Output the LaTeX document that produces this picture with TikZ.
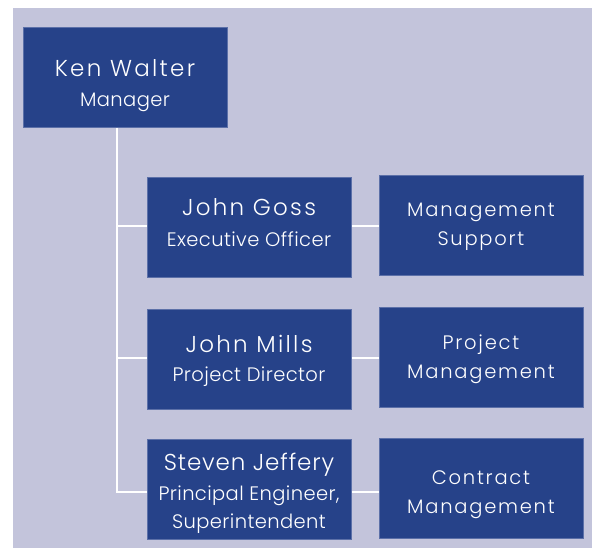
\documentclass[tikz,border=0pt]{standalone}
\usepackage{fontspec}
\setmainfont{Poppins Light}
\newfontfamily\namefont[LetterSpace=10]{Poppins Light}
\newfontfamily\namefontnarrow[LetterSpace=4]{Poppins Light}
\newfontfamily\ttlfont[LetterSpace=2]{Poppins Light}
\newfontfamily\unitfont[LetterSpace=9]{Poppins Light}
\definecolor{bgcol}{RGB}{195,196,219}
\definecolor{boxcol}{RGB}{38,66,137}
\definecolor{edgecol}{RGB}{92,112,168}
\begin{document}
\begin{tikzpicture}[x=1pt,y=-1pt,
  box/.style={draw=edgecol, line width=0.8pt, fill=boxcol, minimum width=204pt, minimum height=100pt, inner sep=0pt, anchor=north west},
  nm/.style={anchor=base, text=white, inner sep=0pt, font=\namefont\fontsize{23}{23}\selectfont},
  nmnarrow/.style={nm, font=\namefontnarrow\fontsize{23}{23}\selectfont},
  ttl/.style={anchor=base, text=white, inner sep=0pt, font=\ttlfont\fontsize{19.5}{19.5}\selectfont},
  unit/.style={anchor=base, text=white, inner sep=0pt, font=\unitfont\fontsize{19.5}{19.5}\selectfont},
  conn/.style={draw=white, line width=2.5pt}]
\useasboundingbox (0,0) rectangle (592,548);
\fill[bgcol] (13,8) rectangle (592,548);
% boxes
\node[box] (ken) at (23,27) {};
\node[box] (goss) at (147,177) {};
\node[box] (ms) at (379,175) {};
\node[box] (mills) at (147,309) {};
\node[box] (pm) at (379,307) {};
\node[box] (jeff) at (147,439) {};
\node[box] (cm) at (379,438) {};
% connector coordinates
\coordinate (trunk) at (117,492);
\coordinate (jgoss) at (117,226);
\coordinate (jmills) at (117,358);
\draw[conn] (ken.south -| trunk) -- (trunk) -- (trunk -| jeff.west);
\draw[conn] (jgoss) -- (jgoss -| goss.west);
\draw[conn] (jmills) -- (jmills -| mills.west);
\draw[conn] (goss.east |- jgoss) -- (jgoss -| ms.west);
\draw[conn] (mills.east |- jmills) -- (jmills -| pm.west);
\draw[conn] (jeff.east |- trunk) -- (trunk -| cm.west);
% texts
\node[nm] (kenA) at (125,77) {Ken Walter};
\node[ttl] (kenB) at (125,107) {Manager};
\node[nm] (gossA) at (249,216) {John Goss};
\node[ttl] (gossB) at (249,247) {Executive Officer};
\node[unit] (msA) at (481,217) {Management};
\node[unit] (msB) at (481,246) {Support};
\node[nm] (millsA) at (249,352) {John Mills};
\node[ttl] (millsB) at (249,381) {Project Director};
\node[unit] (pmA) at (481,349) {Project};
\node[unit] (pmB) at (481,378) {Management};
\node[nmnarrow] (jeffA) at (249,470) {Steven Jeffery};
\node[ttl] (jeffB) at (249,500) {Principal Engineer,};
\node[ttl] (jeffC) at (249,528) {Superintendent};
\node[unit] (cmA) at (481,484) {Contract};
\node[unit] (cmB) at (481,513) {Management};
\end{tikzpicture}
\end{document}
